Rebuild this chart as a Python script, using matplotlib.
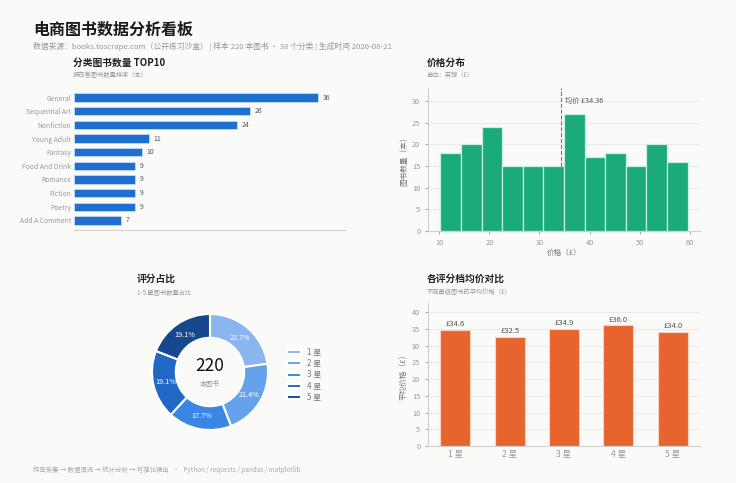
import numpy as np
import matplotlib
matplotlib.use("Agg")
from matplotlib import pyplot as plt

plt.rcParams['font.family'] = ['Noto Sans CJK SC', 'DejaVu Sans']
plt.rcParams['axes.unicode_minus'] = False

# ---- data ----
categories = ["General", "Sequential Art", "Nonfiction", "Young Adult", "Fantasy",
              "Food And Drink", "Romance", "Fiction", "Poetry", "Add A Comment"]
category_counts = [36, 26, 24, 11, 10, 9, 9, 9, 9, 7]

price_bin_edges = [10.2, 14.32, 18.43, 22.55, 26.67, 30.78, 34.9, 39.02, 43.13, 47.25, 51.37, 55.48, 59.6]
price_counts = [18, 20, 24, 15, 15, 15, 27, 17, 18, 15, 20, 16]
mean_price = 34.36

rating_labels = ["1 星", "2 星", "3 星", "4 星", "5 星"]
rating_counts = [50, 47, 39, 42, 42]
rating_avg_price = [34.6, 32.5, 34.9, 36.0, 34.0]

BG = '#fafaf9'
GRID = '#e8e8e8'
SPINE = '#d0d0d0'
TICK = '#999999'

fig = plt.figure(figsize=(7.36, 4.83), dpi=100, facecolor=BG)
W, H = 736, 483


def box(x0, y0, x1, y1):
    # pixel box -> figure fraction rect
    return [x0 / W, 1 - y1 / H, (x1 - x0) / W, (y1 - y0) / H]


def style(ax):
    ax.set_facecolor(BG)
    for s in ['top', 'right']:
        ax.spines[s].set_visible(False)
    for s in ['left', 'bottom']:
        ax.spines[s].set_color(SPINE)
        ax.spines[s].set_linewidth(0.8)
    ax.tick_params(colors=TICK, labelsize=5.3, length=2, width=0.6)


# header
fig.text(33 / W, 1 - 30 / H, "电商图书数据分析看板", fontsize=11.5, fontweight='bold',
         color='#1a1a1a', va='center')
fig.text(33 / W, 1 - 46 / H,
         "数据来源：books.toscrape.com（公开练习沙盒） | 样本 220 本图书 · 38 个分类 | 生成时间 2026-08-21",
         fontsize=5.6, color='#999999', va='center')

# ---- panel 1: category top10 ----
ax1 = fig.add_axes(box(74, 88, 345, 230))
style(ax1)
y = np.arange(len(categories))
ax1.barh(y, category_counts, height=0.62, color='#1f6fd1', edgecolor='#cfe0f5', linewidth=0.5)
ax1.set_ylim(9.7, -0.7)
ax1.set_xlim(0, 40)
ax1.set_yticks(y)
ax1.set_yticklabels(categories, fontsize=4.9)
ax1.set_xticks([])
ax1.spines['left'].set_visible(False)
ax1.tick_params(axis='y', length=0, pad=2)
for yi, v in zip(y, category_counts):
    ax1.text(v + 0.7, yi, str(v), va='center', ha='left', fontsize=5.0, color='#555555')
fig.text(73 / W, 1 - 63 / H, "分类图书数量 TOP10", fontsize=7, fontweight='bold', color='#222222', va='center')
fig.text(73 / W, 1 - 75 / H, "按在售图书数量排序（本）", fontsize=4.5, color='#999999', va='center')

# ---- panel 2: price histogram ----
ax2 = fig.add_axes(box(428, 88, 700, 231))
style(ax2)
edges = np.array(price_bin_edges)
ax2.bar(edges[:-1], price_counts, width=np.diff(edges), align='edge',
        color='#1aab78', edgecolor='#c9f0de', linewidth=0.9, zorder=2)
ax2.set_ylim(0, 33)
ax2.set_yticks([0, 5, 10, 15, 20, 25, 30])
ax2.set_xticks([10, 20, 30, 40, 50, 60])
ax2.yaxis.grid(True, color=GRID, linewidth=0.6, zorder=0)
ax2.axvline(mean_price, color='#777777', linestyle='--', linewidth=0.8, zorder=3)
ax2.text(mean_price + 0.8, 30, "均价 £%.2f" % mean_price, fontsize=5.2, color='#555555', va='center')
ax2.set_xlabel("价格（£）", fontsize=5.5, color='#777777', labelpad=2)
ax2.set_ylabel("图书数量（本）", fontsize=5.5, color='#777777', labelpad=3)
fig.text(427 / W, 1 - 63 / H, "价格分布", fontsize=7, fontweight='bold', color='#222222', va='center')
fig.text(427 / W, 1 - 75 / H, "单位：英镑（£）", fontsize=4.5, color='#999999', va='center')

# ---- panel 3: rating donut ----
ax3 = fig.add_axes(box(152, 314, 268, 430))
ax3.set_facecolor(BG)
pie_colors = ['#8ab6ef', '#66a2eb', '#3a86e2', '#2167c4', '#15488f']
wedges, _, autotexts = ax3.pie(rating_counts, colors=pie_colors, startangle=90, counterclock=False,
                               autopct='%.1f%%', pctdistance=0.78,
                               wedgeprops=dict(width=0.41, edgecolor='white', linewidth=1.5),
                               textprops=dict(fontsize=5.2, color='white'))
ax3.set_xlim(-1, 1)
ax3.set_ylim(-1, 1)
ax3.text(0, 0.1, str(sum(rating_counts)), ha='center', va='center', fontsize=12.5, color='#111111')
ax3.text(0, -0.2, "本图书", ha='center', va='center', fontsize=4.8, color='#999999')
leg = ax3.legend(wedges, rating_labels, loc='center left', bbox_to_anchor=(280 / W, 1 - 375 / H),
                 bbox_transform=fig.transFigure, frameon=False, fontsize=5.8,
                 handlelength=1.7, handleheight=0.4, labelspacing=0.3, handletextpad=0.8)
for t in leg.get_texts():
    t.set_color('#777777')
fig.text(137 / W, 1 - 279 / H, "评分占比", fontsize=7, fontweight='bold', color='#222222', va='center')
fig.text(137 / W, 1 - 292 / H, "1-5 星图书数量占比", fontsize=4.5, color='#999999', va='center')

# ---- panel 4: avg price by rating ----
ax4 = fig.add_axes(box(428, 303, 700, 446))
style(ax4)
x = np.arange(len(rating_labels))
ax4.bar(x, rating_avg_price, width=0.55, color='#e8642f', edgecolor='#f7d5c3', linewidth=0.8, zorder=2)
ax4.set_xlim(-0.5, 4.5)
ax4.set_ylim(0, 42.7)
ax4.set_yticks(range(0, 41, 5))
ax4.set_xticks(x)
ax4.set_xticklabels(rating_labels, fontsize=6.2)
ax4.tick_params(axis='x', length=0, pad=3)
ax4.yaxis.grid(True, color=GRID, linewidth=0.6, zorder=0)
for xi, v in zip(x, rating_avg_price):
    ax4.text(xi, v + 0.5, "£%.1f" % v, ha='center', va='bottom', fontsize=5.5, color='#555555')
ax4.set_ylabel("平均价格（£）", fontsize=5.5, color='#777777', labelpad=3)
fig.text(427 / W, 1 - 279 / H, "各评分档均价对比", fontsize=7, fontweight='bold', color='#222222', va='center')
fig.text(427 / W, 1 - 292 / H, "不同星级图书的平均价格（£）", fontsize=4.5, color='#999999', va='center')

# footer
fig.text(33 / W, 1 - 470 / H,
         "爬虫采集 → 数据清洗 → 统计分析 → 可视化输出   ·   Python / requests / pandas / matplotlib",
         fontsize=4.6, color='#aaaaaa', va='center')

fig.savefig("out.png", dpi=100, facecolor=BG)
